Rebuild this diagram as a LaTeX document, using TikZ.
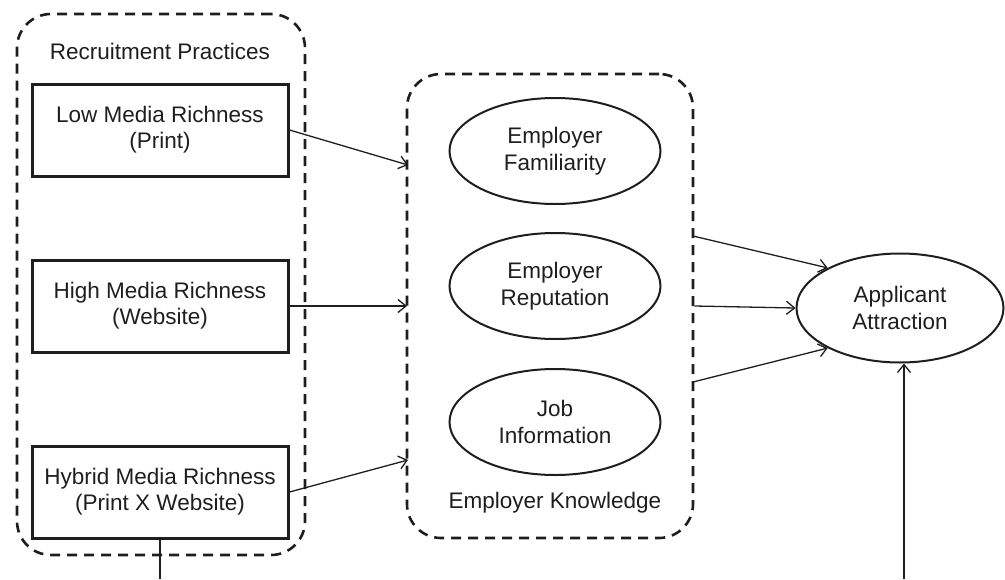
\documentclass[tikz,border=0pt]{standalone}
\usepackage{fontspec}
\setmainfont{Liberation Sans}
\usetikzlibrary{arrows.meta,shapes.geometric}
\definecolor{ink}{RGB}{30,30,30}
\tikzset{
  grp/.style={draw=ink, line width=2.6pt, dash pattern=on 10pt off 7pt, rounded corners=34pt, inner sep=0pt},
  rbox/.style={draw=ink, line width=3pt, minimum width=256pt, minimum height=92pt, inner sep=0pt, align=center, text=ink, font=\fontsize{22.5}{26}\selectfont},
  ell/.style={draw=ink, ellipse, line width=2pt, minimum width=211pt, minimum height=106pt, inner sep=0pt, align=center, text=ink, font=\fontsize{22.5}{27}\selectfont},
  lbl/.style={text=ink, inner sep=0pt, font=\fontsize{22.5}{26}\selectfont},
  arr/.style={draw=ink, line width=1.3pt, -{Straight Barb[length=8pt,width=13pt,line width=1.3pt]}},
  ln/.style={draw=ink, line width=1.5pt}
}
\begin{document}
\begin{tikzpicture}[x=1pt,y=-1pt]
\useasboundingbox (0,0) rectangle (1005,579);
% containers
\node[grp, minimum width=288pt, minimum height=541pt] (rp) at (161,284.5) {};
\node[grp, minimum width=286pt, minimum height=464pt] (ek) at (550,306) {};
\node[lbl] (rpl) at (160,51) {Recruitment Practices};
\node[lbl] (ekl) at (555,503) {Employer Knowledge};
% boxes
\node[rbox] (low) at (160,130) {Low Media Richness\\(Print)};
\node[rbox] (high) at (160,306) {High Media Richness\\(Website)};
\node[rbox] (hyb) at (160,492) {Hybrid Media Richness\\(Print X Website)};
% ellipses
\node[ell] (fam) at (555,151) {Employer\\Familiarity};
\node[ell] (rep) at (555,286) {Employer\\Reputation};
\node[ell] (job) at (555,422) {Job\\Information};
\node[ell, minimum width=207pt, minimum height=109pt] (aa) at (900,308) {Applicant\\Attraction};
% connector ends
\coordinate (in1) at (408,165);
\coordinate (in2) at (407,306);
\coordinate (in3) at (408,460);
\coordinate (out1) at (693,236);
\coordinate (out3) at (693,382);
\coordinate (b1) at (160,579);
\coordinate (b2) at (904,579);
% connectors
\draw[arr] (low.east) -- (in1);
\draw[arr] (high.east) -- (in2);
\draw[arr] (hyb.east) -- (in3);
\draw[arr] (out1) -- (aa.151);
\draw[arr] (ek.east) -- (aa.west);
\draw[arr] (out3) -- (aa.209);
\draw[ln] (hyb.south) -- (b1);
\draw[arr] (b2) -- (b2 |- aa.south);
\end{tikzpicture}
\end{document}
